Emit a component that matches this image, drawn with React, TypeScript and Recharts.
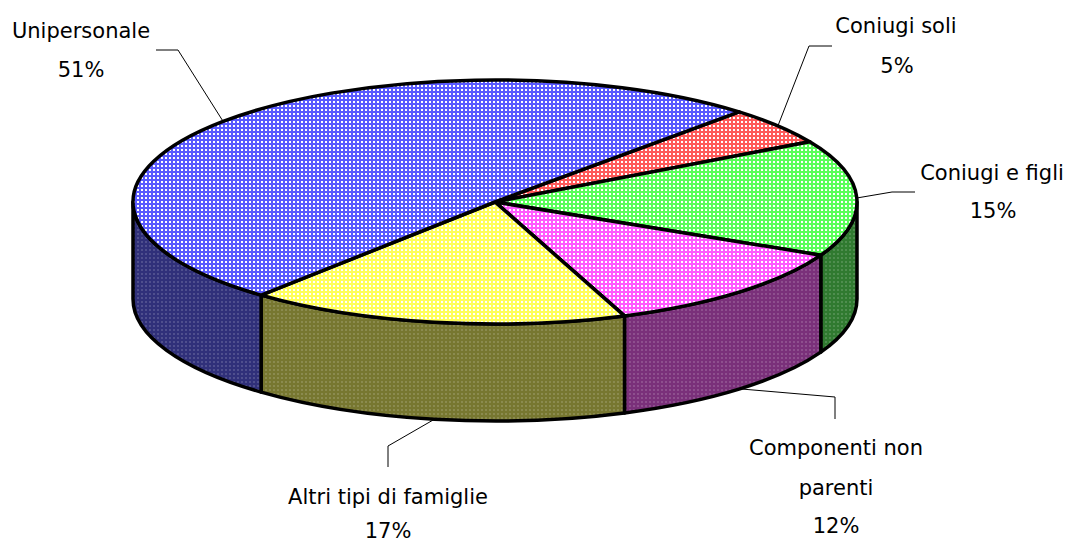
import { PieChart, Pie } from 'recharts';

const labels = ['Coniugi soli', 'Coniugi e figli', 'Componenti non parenti', 'Altri tipi di famiglie', 'Unipersonale'];
const values = [5, 15.4, 12, 17, 50.6];

const topColors = ['#ff5a5a', '#5aff5a', '#ff5aff', '#ffff5a', '#5a5aff'];
const wallColors = ['#7a3030', '#307a30', '#7a307a', '#777730', '#30307a'];

// label placement: text lines with centre x and baseline y, plus the leader's elbow and end
const labelLayout = [
  { lines: [['Coniugi soli', 896, 33], ['5%', 897, 73]], leader: [[809, 46], [832, 46]], wall: false },
  { lines: [['Coniugi e figli', 992, 180], ['15%', 993, 218]], leader: [[892, 192], [915, 192]], wall: false },
  { lines: [['Componenti non', 836, 455], ['parenti', 836, 495], ['12%', 836, 533]], leader: [[835, 397], [835, 419]], wall: true },
  { lines: [['Altri tipi di famiglie', 388, 504], ['17%', 388, 538]], leader: [[388, 446], [388, 467]], wall: true },
  { lines: [['Unipersonale', 81, 38], ['51%', 81, 77]], leader: [[178, 50], [156, 50]], wall: false },
];

const chartData = labels.map((name, i) => ({ name, value: values[i], fill: `url(#top${i})` }));

const SQUASH = 122 / 362;
const DEPTH = 97;

function ellipsePoint(cx: number, cy: number, r: number, deg: number) {
  const a = (deg * Math.PI) / 180;
  return [cx + r * Math.cos(a), cy - r * SQUASH * Math.sin(a)];
}

function Slice3D(props: any) {
  const { cx, cy, outerRadius: r, startAngle, endAngle, index, fill } = props;
  const ry = r * SQUASH;
  const [sx, sy] = ellipsePoint(cx, cy, r, startAngle);
  const [ex, ey] = ellipsePoint(cx, cy, r, endAngle);
  const large = Math.abs(startAngle - endAngle) > 180 ? 1 : 0;
  const top = `M${cx},${cy} L${sx},${sy} A${r},${ry} 0 ${large} 1 ${ex},${ey} Z`;

  // the visible wall is whatever part of the slice lies in the front half
  const walls: [number, number][] = [];
  for (const [hi, lo] of [[0, -180], [-360, -540]]) {
    const a = Math.min(startAngle, hi);
    const b = Math.max(endAngle, lo);
    if (a > b) walls.push([a, b]);
  }

  return (
    <g>
      {walls.map(([a, b]) => {
        const [ax, ay] = ellipsePoint(cx, cy, r, a);
        const [bx, by] = ellipsePoint(cx, cy, r, b);
        return (
          <path
            key={a}
            d={`M${ax},${ay} A${r},${ry} 0 0 1 ${bx},${by} L${bx},${by + DEPTH} A${r},${ry} 0 0 0 ${ax},${ay + DEPTH} Z`}
            fill={`url(#wall${index})`}
            stroke="#000"
            strokeWidth={3.5}
            strokeLinejoin="round"
          />
        );
      })}
      <path d={top} fill={fill} stroke="#000" strokeWidth={3.5} strokeLinejoin="round" />
    </g>
  );
}

function SliceLabel(props: any) {
  const { cx, cy, outerRadius: r, midAngle, index } = props;
  const item = labelLayout[index];
  const [ax, ay] = ellipsePoint(cx, cy, r, midAngle);
  const pts = [[ax, ay + (item.wall ? DEPTH : 0)], ...item.leader];
  return (
    <g>
      <polyline points={pts.map((p) => p.join(',')).join(' ')} fill="none" stroke="#000" strokeWidth={1} />
      {item.lines.map(([text, x, y]) => (
        <text key={String(text)} x={x as number} y={y as number} textAnchor="middle" fontSize={21} fill="#000" fontFamily="'Comic Sans MS', 'DejaVu Sans', sans-serif">
          {text}
        </text>
      ))}
    </g>
  );
}

export default function App() {
  return (
    <div style={{ position: 'absolute', left: 0, top: 0 }}>
      <PieChart width={1072} height={543} margin={{ top: 0, right: 0, bottom: 0, left: 0 }}>
        <defs>
          {topColors.map((c, i) => (
            <pattern key={c} id={`top${i}`} width={4} height={4} patternUnits="userSpaceOnUse">
              <rect width={4} height={4} fill={c} />
              <rect x={1} y={1} width={2} height={2} fill="#fff" />
            </pattern>
          ))}
          {wallColors.map((c, i) => (
            <pattern key={c} id={`wall${i}`} width={4} height={4} patternUnits="userSpaceOnUse">
              <rect width={4} height={4} fill={c} />
              <rect x={1} y={1} width={2} height={2} fill="#fff" opacity={0.15} />
            </pattern>
          ))}
        </defs>
        <Pie
          data={chartData}
          dataKey="value"
          nameKey="name"
          cx={495}
          cy={202}
          outerRadius={362}
          startAngle={47.6}
          endAngle={-312.4}
          shape={Slice3D}
          label={SliceLabel}
          labelLine={false}
          isAnimationActive={false}
        />
      </PieChart>
    </div>
  );
}
